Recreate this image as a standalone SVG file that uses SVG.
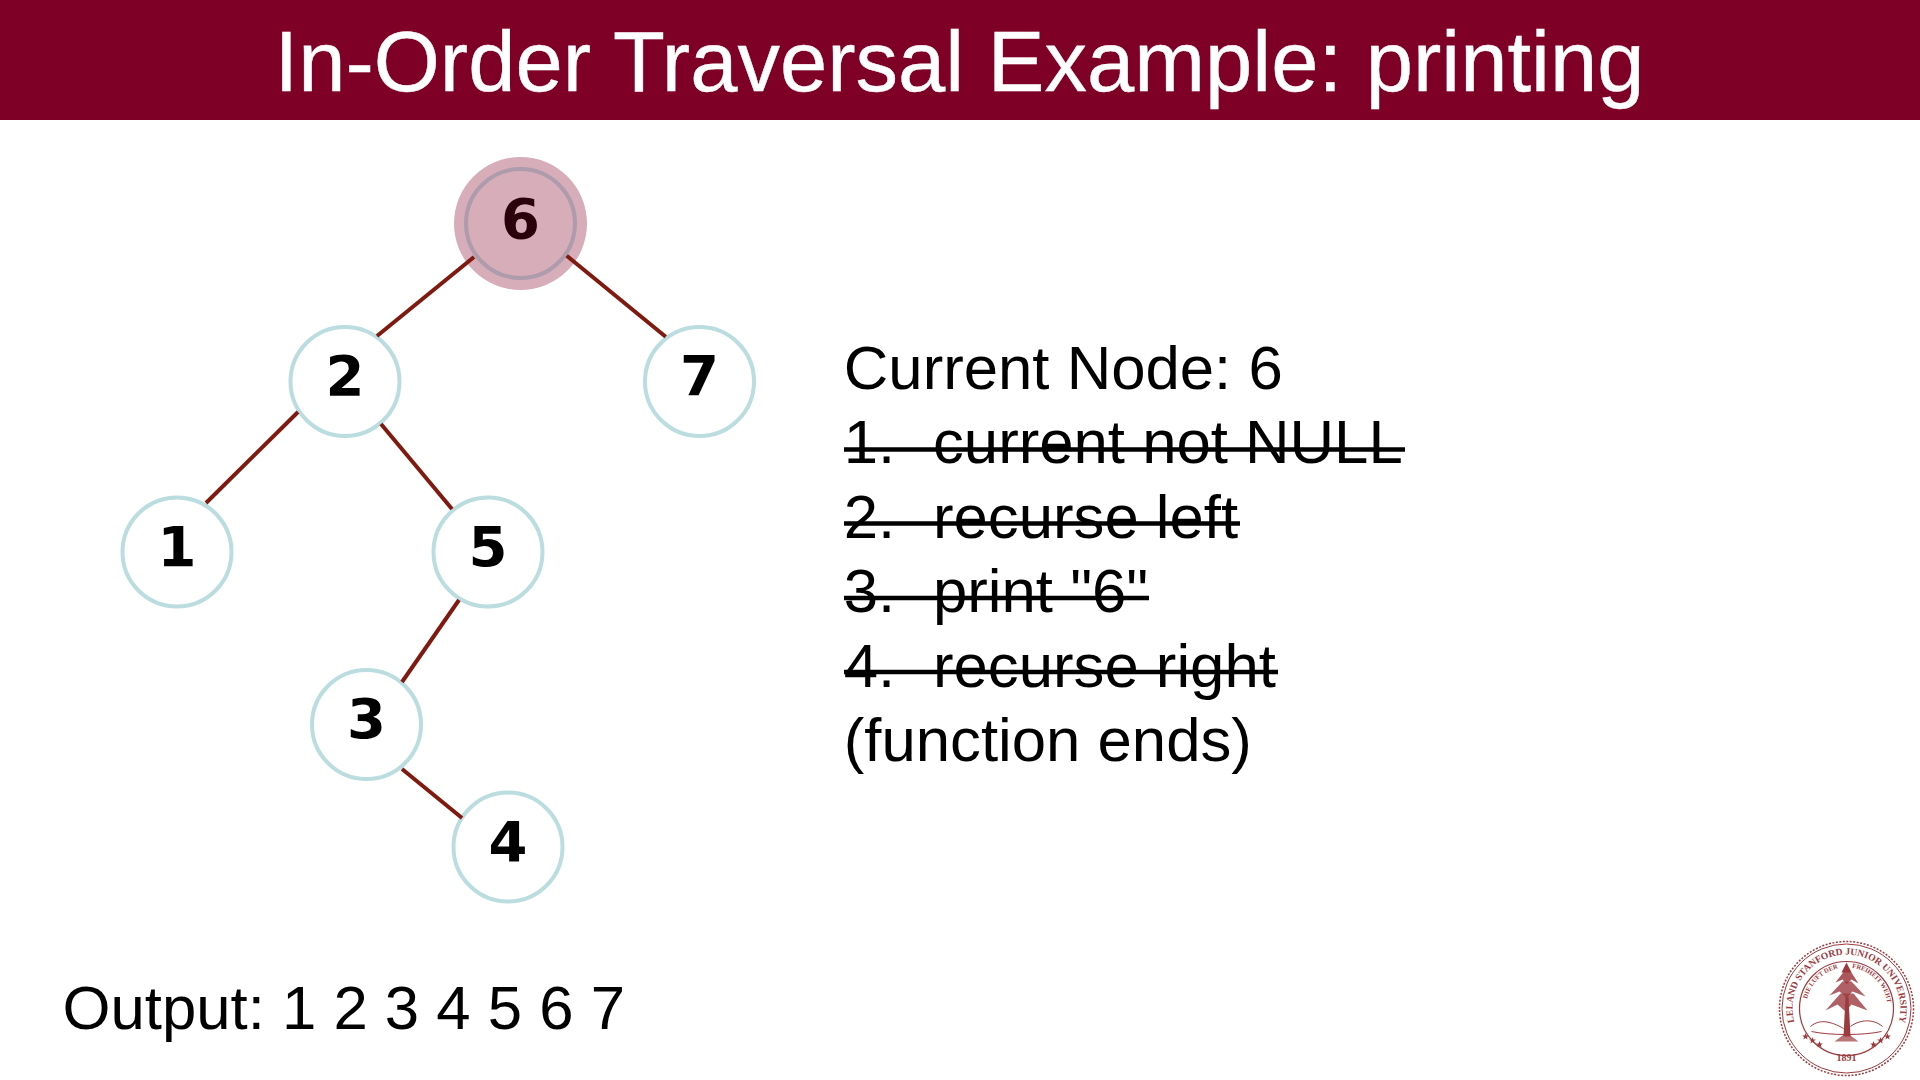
<svg xmlns="http://www.w3.org/2000/svg" xmlns:xlink="http://www.w3.org/1999/xlink" width="1920" height="1080" viewBox="0 0 1920 1080">
<style>
.title{font:85px "Liberation Sans",Arial,sans-serif;fill:#fff;text-anchor:middle;stroke:#fff;stroke-width:.4}
.body{font:61.7px "Liberation Sans",Arial,sans-serif;fill:#000}
.ring{fill:#fff;stroke:#bbdde0;stroke-width:4}
.digit{font:bold 56px "DejaVu Sans",sans-serif;fill:#000;text-anchor:middle}
.edge{stroke:#7f1a10;stroke-width:4;fill:none}
.strike{stroke:#000;stroke-width:4.500}
.sl{fill:none;stroke:#9c3a3e}
.st{font-family:"Liberation Serif",serif;fill:#9c3a3e}
</style>
<defs>
<path id="arcOuter" d="M1795.6 1030.700A54 54 0 1 1 1898.400 1030.700"/>
<path id="arcL" d="M1806.500 1011A41 41 0 0 1 1845 973"/>
<path id="arcR" d="M1850 973A41 41 0 0 1 1888 1011"/>
<polygon id="star" points="0,-3.400 0.900,-1 3.400,-1 1.400,0.500 2.100,3 0,1.500 -2.100,3 -1.400,0.500 -3.400,-1 -0.900,-1" fill="#9c3a3e"/>
</defs>
<rect width="1920" height="1080" fill="#fff"/>
<rect id="header" width="1920" height="120" fill="#7f0026"/>
<text class="title" x="959.500" y="90.500">In-Order Traversal Example: printing</text>
<g id="node-6"><circle class="ring" cx="520.500" cy="223.500" r="54.500" style="stroke:#c4e5ea"/><text class="digit" x="520.500" y="238">6</text><circle cx="520.500" cy="223.500" r="66.500" fill="#800026" fill-opacity=".32"/></g>
<g id="node-2"><circle class="ring" cx="345" cy="381.500" r="54.500"/><text class="digit" x="345" y="395">2</text></g>
<g id="node-7"><circle class="ring" cx="699.500" cy="381.500" r="54.500"/><text class="digit" x="699.500" y="395">7</text></g>
<g id="node-1"><circle class="ring" cx="177" cy="552" r="54.500"/><text class="digit" x="177" y="565.500">1</text></g>
<g id="node-5"><circle class="ring" cx="488" cy="552" r="54.500"/><text class="digit" x="488" y="565.500">5</text></g>
<g id="node-3"><circle class="ring" cx="366.500" cy="724.500" r="54.500"/><text class="digit" x="366.500" y="738">3</text></g>
<g id="node-4"><circle class="ring" cx="508" cy="847" r="54.500"/><text class="digit" x="508" y="860.500">4</text></g>
<g id="connectors">
<line class="edge" x1="474" y1="257" x2="377" y2="336"/>
<line class="edge" x1="566.700" y1="255.700" x2="665.700" y2="336.700"/>
<line class="edge" x1="298" y1="412" x2="206" y2="503"/>
<line class="edge" x1="381" y1="424" x2="452" y2="509"/>
<line class="edge" x1="459" y1="600" x2="402" y2="682"/>
<line class="edge" x1="402" y1="769" x2="462" y2="818"/>
</g>
<g id="steps">
<text class="body" x="843.800" y="389">Current Node: 6</text>
<text class="body" x="843.800" y="463">1.</text><text class="body" x="933" y="463">current not NULL</text>
<text class="body" x="843.800" y="537.500">2.</text><text class="body" x="933" y="537.500">recurse left</text>
<text class="body" x="843.800" y="612">3.</text><text class="body" x="933" y="612">print "6"</text>
<text class="body" x="843.800" y="686.500">4.</text><text class="body" x="933" y="686.500">recurse right</text>
<text class="body" x="843.800" y="761">(function ends)</text>
<line class="strike" x1="844" y1="449.500" x2="1405" y2="449.500"/>
<line class="strike" x1="844" y1="523.500" x2="1240" y2="523.500"/>
<line class="strike" x1="844" y1="598" x2="1149" y2="598"/>
<line class="strike" x1="844" y1="672" x2="1278" y2="672"/>
</g>
<text id="output" class="body" x="62.500" y="1029">Output: 1 2 3 4 5 6 7</text>
<g id="seal" transform="translate(-0.500,-5.500)">
<circle class="sl" cx="1847" cy="1014" r="67" stroke-width="1.500" stroke-dasharray="2 1.500"/>
<circle class="sl" cx="1847" cy="1014" r="64.500" stroke-width="1"/>
<circle class="sl" cx="1847" cy="1014" r="47" stroke-width="1.200"/>
<text class="st" font-size="9.600" font-weight="bold"><textPath xlink:href="#arcOuter" href="#arcOuter" startOffset="50%" text-anchor="middle">LELAND STANFORD JUNIOR UNIVERSITY</textPath></text>
<text class="st" font-size="6.500" font-weight="bold"><textPath xlink:href="#arcL" href="#arcL" startOffset="50%" text-anchor="middle">DIE LUFT DER</textPath></text>
<text class="st" font-size="6.500" font-weight="bold"><textPath xlink:href="#arcR" href="#arcR" startOffset="50%" text-anchor="middle">FREIHEIT WEHT</textPath></text>
<g fill="#9c3a3e">
<path d="M1847 968L1842 978L1852 978Z"/>
<path d="M1846 975L1836 988L1843 985L1847 990L1852 985L1859 989L1850 975Z" fill-opacity=".85"/>
<path d="M1843 987L1830 1001L1840 997L1847 1003L1853 997L1866 1002L1852 987Z" fill-opacity=".8"/>
<path d="M1841 999L1826 1016L1838 1010L1846 1017L1852 1010L1868 1016L1854 999Z" fill-opacity=".8"/>
<path d="M1846 1002L1844 1042L1851 1042L1849 1002Z"/>
<path d="M1835 1047L1847 1038L1859 1047Z" fill-opacity=".7"/>
</g>
<path class="sl" d="M1811 1032C1820 1024 1832 1027 1844 1034M1851 1032C1860 1025 1874 1024 1883 1032M1812 1037C1830 1041 1864 1041 1882 1037" stroke-width="1"/>
<use href="#star" xlink:href="#star" x="1806" y="1042"/><use href="#star" xlink:href="#star" x="1813" y="1046"/><use href="#star" xlink:href="#star" x="1820" y="1050"/>
<use href="#star" xlink:href="#star" x="1874" y="1050"/><use href="#star" xlink:href="#star" x="1881" y="1046"/><use href="#star" xlink:href="#star" x="1888" y="1042"/>
<text class="st" x="1847" y="1066" font-size="10" font-weight="bold" text-anchor="middle">1891</text>
</g>
</svg>
